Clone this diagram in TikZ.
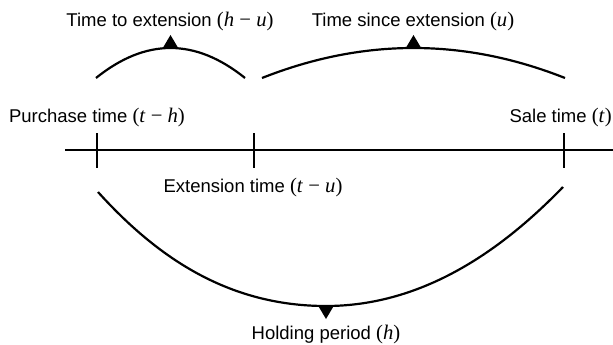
\documentclass[tikz,border=0pt]{standalone}
\usepackage{fontspec}
\setmainfont{Liberation Sans}
\newfontfamily\mfont[Scale=1.12]{Liberation Serif}
\newcommand\pq[1]{{\mfont(#1)}}
\newcommand\iv[1]{\textit{#1}}
\newcommand\mn{\kern0.25em−\kern0.25em}
\begin{document}
\begin{tikzpicture}[x=1pt,y=-1pt,
  lbl/.style={anchor=base, inner sep=0pt, font=\fontsize{18.5}{20}\selectfont},
  axisline/.style={line width=2.2pt},
  tickline/.style={line width=2.2pt},
  bow/.style={line width=2.2pt},
  tip/.style={fill=black}]
\useasboundingbox (0,0) rectangle (613,345);
% axis
\coordinate (ax0) at (65,150);
\coordinate (ax1) at (613,150);
\draw[axisline] (ax0) -- (ax1);
% ticks
\coordinate (pT) at (97,133);  \coordinate (pB) at (97,168);
\coordinate (eT) at (254,133); \coordinate (eB) at (254,168);
\coordinate (sT) at (564,133); \coordinate (sB) at (564,168);
\draw[tickline] (pT) -- (pB);
\draw[tickline] (eT) -- (eB);
\draw[tickline] (sT) -- (sB);
% labels
\node[lbl] (purchase) at (97,122) {Purchase time \pq{\iv{t}\mn\iv{h}}};
\node[lbl, anchor=base east] (sale) at (612,122) {Sale time \pq{\iv{t}}};
\node[lbl] (ext) at (253,192) {Extension time \pq{\iv{t}\mn\iv{u}}};
\node[lbl] (hold) at (326,339) {Holding period \pq{\iv{h}}};
\node[lbl] (tte) at (170,27) {Time to extension \pq{\iv{h}\mn\iv{u}}};
\node[lbl] (tse) at (413,27) {Time since extension \pq{\iv{u}}};
% top arcs
\coordinate (a1s) at (96,78);  \coordinate (a1e) at (245,78);
\coordinate (a2s) at (262,78); \coordinate (a2e) at (565,78);
\draw[bow] (a1s) .. controls (145.7,38) and (195.3,38) .. (a1e);
\draw[bow] (a2s) .. controls (363,38) and (464,38) .. (a2e);
\fill[tip] (170.5,35) -- (162.5,48.5) -- (178.5,48.5) -- cycle;
\fill[tip] (413.5,35) -- (405.5,48.5) -- (421.5,48.5) -- cycle;
% bottom arc
\coordinate (bs) at (98,192);
\coordinate (bm) at (326,306);
\coordinate (be) at (563,187);
\draw[bow] (bs) .. controls (155,255) and (226,306) .. (bm)
           .. controls (424,306) and (503,249) .. (be);
\fill[tip] (326,319) -- (318,305.5) -- (334,305.5) -- cycle;
\end{tikzpicture}
\end{document}
